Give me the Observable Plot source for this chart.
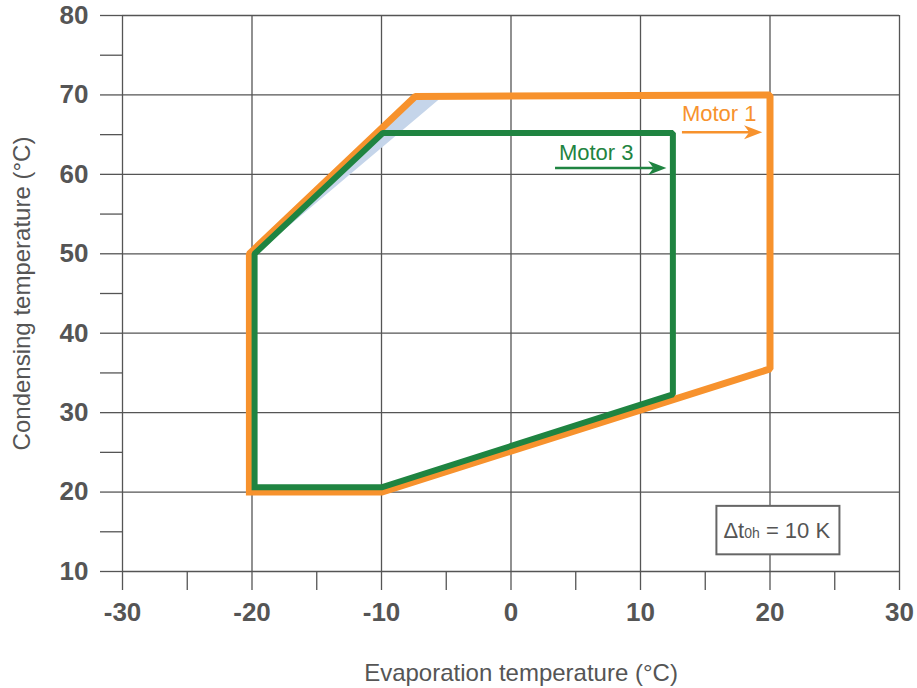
<!DOCTYPE html>
<html>
<head>
<meta charset="utf-8">
<script src="https://cdn.jsdelivr.net/npm/d3@7"></script>
<script src="https://cdn.jsdelivr.net/npm/@observablehq/plot@0.6"></script>
<style>
  html, body { margin: 0; padding: 0; background: #fff; }
  #chart svg { display: block; font-family: "Liberation Sans", Arial, sans-serif; }
</style>
</head>
<body>
<div id="chart"></div>
<script>
// Axis ticks
const xMajor = [-30, -20, -10, 0, 10, 20, 30];
const xMinor = [-25, -15, -5, 5, 15, 25];
const yMajor = [10, 20, 30, 40, 50, 60, 70, 80];
const yMinor = [15, 25, 35, 45, 55, 65, 75];

// Operating envelope of Motor 1 (evaporation °C, condensing °C), closed
const motor1Evap = [-20.2, -10, 20, 20, -7.4, -20.2, -20.2];
const motor1Cond = [20, 20, 35.5, 70, 69.8, 50, 20];

// Operating envelope of Motor 3, closed
const motor3Evap = [-19.8, -10, 12.5, 12.5, -9.9, -19.8, -19.8];
const motor3Cond = [20.6, 20.6, 32.3, 65.2, 65.2, 50, 20.6];

// Shaded wedge along the upper-left edge
const shadeEvap = [-20, -7.4, -5.3];
const shadeCond = [49.6, 69.8, 69.8];

// Envelope labels with their pointer arrows
const labelNames = ["Motor 1", "Motor 3"];
const labelColors = ["#f7922d", "#1f8441"];
const labelX = [13.2, 3.7];
const labelY = [67.6, 62.7];
const arrowFrom = [13.2, 3.4];
const arrowTo = [19.4, 12.0];
const arrowY = [65.3, 60.8];

// Superheat note box
const noteText = "Δt0h = 10 K";
const noteBox = {x1: 15.9, x2: 25.4, y1: 12.1, y2: 18.2};
const noteX = 16.4;
const noteY = 15.1;

const pts = (xs, ys) => xs.map((x, i) => ({x, y: ys[i]}));
const motor1 = pts(motor1Evap, motor1Cond);
const motor3 = pts(motor3Evap, motor3Cond);
const shade = pts(shadeEvap, shadeCond);
const labels = labelNames.map((name, i) => ({
  name, color: labelColors[i], x: labelX[i], y: labelY[i],
  x1: arrowFrom[i], x2: arrowTo[i], ay: arrowY[i]
}));

// Filled, notched arrowhead whose tip sits on the anchor point, pointing right
const arrowHead = {
  draw(ctx, size) {
    const r = Math.sqrt(size / Math.PI);
    const L = r * 2.6, H = r, N = r * 0.75;
    ctx.moveTo(0, 0);
    ctx.lineTo(-L, -H);
    ctx.lineTo(-L + N, 0);
    ctx.lineTo(-L, H);
    ctx.closePath();
  }
};

const gridColor = "#555";
const textColor = "#555";
const fmt = d => String(d);

const chart = Plot.plot({
  width: 917,
  height: 688,
  marginLeft: 122,
  marginRight: 18,
  marginTop: 15,
  marginBottom: 117,
  x: {domain: [-30, 30]},
  y: {domain: [10, 80]},
  style: {fontFamily: "'Liberation Sans', Arial, sans-serif"},
  marks: [
    Plot.ruleX(xMajor, {stroke: gridColor, strokeWidth: 1.3}),
    Plot.ruleY(yMajor, {stroke: gridColor, strokeWidth: 1.3}),
    Plot.axisX({ticks: xMajor, tickSize: 19, tickPadding: 12, tickFormat: fmt, label: null,
      fontSize: 26, fontWeight: "bold", color: textColor, strokeWidth: 1.3}),
    Plot.axisX({ticks: xMinor, tickSize: 19, tickFormat: () => "", label: null,
      color: gridColor, strokeWidth: 1.3}),
    Plot.axisY({ticks: yMajor, tickSize: 22, tickPadding: 12, tickFormat: fmt, label: null,
      fontSize: 26, fontWeight: "bold", color: textColor, strokeWidth: 1.3}),
    Plot.axisY({ticks: yMinor, tickSize: 22, tickFormat: () => "", label: null,
      color: gridColor, strokeWidth: 1.3}),
    Plot.text(["Evaporation temperature (°C)"], {frameAnchor: "bottom", dy: 102, dx: 10,
      fontSize: 24, fill: textColor, textAnchor: "middle", lineAnchor: "middle"}),
    Plot.text(["Condensing temperature (°C)"], {frameAnchor: "left", dx: -100, rotate: -90,
      fontSize: 24, fill: textColor, textAnchor: "middle", lineAnchor: "middle"}),
    Plot.line(shade.concat([shade[0]]), {x: "x", y: "y", fill: "#c5d5ea", stroke: "none"}),
    Plot.line(motor1, {x: "x", y: "y", stroke: "#f7922d", strokeWidth: 7,
      strokeLinejoin: "miter", strokeLinecap: "square"}),
    Plot.line(motor3, {x: "x", y: "y", stroke: "#1f8441", strokeWidth: 6,
      strokeLinejoin: "miter", strokeLinecap: "square"}),
    Plot.link(labels, {x1: "x1", x2: d => d.x2 - 1, y1: "ay", y2: "ay",
      stroke: d => d.color, strokeWidth: 2.6}),
    Plot.dot(labels, {x: "x2", y: "ay", symbol: arrowHead, r: 7,
      fill: d => d.color, stroke: "none"}),
    Plot.text(labels, {x: "x", y: "y", text: "name", fill: d => d.color,
      fontSize: 22, textAnchor: "start", lineAnchor: "middle"}),
    Plot.rect([noteBox], {x1: "x1", x2: "x2", y1: "y1", y2: "y2",
      fill: "#fff", stroke: "#666", strokeWidth: 2}),
    Plot.text([noteText], {x: noteX, y: noteY, fontSize: 22, fill: textColor,
      textAnchor: "start", lineAnchor: "middle"})
  ]
});

document.getElementById("chart").appendChild(chart);

// Render the "0h" of Δt0h as a smaller inline run
for (const t of chart.querySelectorAll("text")) {
  if (t.textContent === noteText) {
    const ns = "http://www.w3.org/2000/svg";
    t.textContent = "";
    t.appendChild(document.createTextNode("Δt"));
    const sub = document.createElementNS(ns, "tspan");
    sub.setAttribute("font-size", 14);
    sub.textContent = "0h";
    t.appendChild(sub);
    const rest = document.createElementNS(ns, "tspan");
    rest.textContent = " = 10 K";
    t.appendChild(rest);
  }
}
</script>
</body>
</html>
